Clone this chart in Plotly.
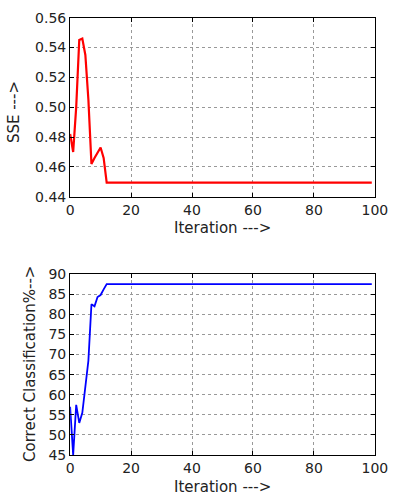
import plotly.graph_objects as go

iterations = list(range(100))
sse_head = [0.482, 0.470, 0.500, 0.545, 0.546, 0.535, 0.505, 0.462, 0.466, 0.470, 0.473, 0.466]
sse_tail_value = 0.4495
sse = sse_head + [sse_tail_value] * (100 - len(sse_head))

acc_head = [57.0, 45.0, 57.5, 53.0, 55.5, 62.0, 68.5, 82.5, 82.0, 84.3, 84.8, 86.2]
acc_tail_value = 87.5
acc = acc_head + [acc_tail_value] * (100 - len(acc_head))

x_ticks = [0, 20, 40, 60, 80, 100]
sse_ticks = [0.44, 0.46, 0.48, 0.50, 0.52, 0.54, 0.56]
acc_ticks = [45, 50, 55, 60, 65, 70, 75, 80, 85, 90]

W, H = 407, 495
FONT = "DejaVu Sans"

def px_x(p):
    return p / W

def px_y(p):
    return (H - p) / H

fig = go.Figure()
fig.add_trace(go.Scatter(x=iterations, y=sse, mode="lines",
                         line=dict(color="#ff0000", width=2.2), xaxis="x", yaxis="y",
                         showlegend=False))
fig.add_trace(go.Scatter(x=iterations, y=acc, mode="lines",
                         line=dict(color="#0000ff", width=1.8), xaxis="x2", yaxis="y2",
                         showlegend=False))

axis_common = dict(showline=True, linecolor="black", linewidth=1.2, mirror="allticks",
                   ticks="inside", ticklen=4, tickcolor="black",
                   showgrid=True, gridcolor="#999999", griddash="dot", gridwidth=1,
                   zeroline=False, tickfont=dict(family=FONT, size=14, color="#222222"))

fig.update_layout(
    width=W, height=H, margin=dict(l=0, r=0, t=0, b=0),
    paper_bgcolor="white", plot_bgcolor="white",
    xaxis=dict(domain=[px_x(69), px_x(387)], range=[0, 100], tickvals=x_ticks,
               anchor="y", **axis_common),
    yaxis=dict(domain=[px_y(195), px_y(10)], range=[0.44, 0.56], tickvals=sse_ticks,
               tickformat=".2f", anchor="x", **axis_common),
    xaxis2=dict(domain=[px_x(69), px_x(387)], range=[0, 100], tickvals=x_ticks,
                anchor="y2", **axis_common),
    yaxis2=dict(domain=[px_y(462), px_y(275)], range=[45, 90], tickvals=acc_ticks,
                anchor="x2", **axis_common),
)

label_font = dict(family=FONT, size=15, color="#222222")
fig.add_annotation(text="Iteration --->", xref="paper", yref="paper",
                   x=px_x(228), y=px_y(227), xanchor="center", yanchor="middle",
                   showarrow=False, font=label_font)
fig.add_annotation(text="SSE --->", xref="paper", yref="paper",
                   x=px_x(10), y=px_y(108), xanchor="center", yanchor="middle",
                   textangle=-90, showarrow=False, font=label_font)
fig.add_annotation(text="Iteration --->", xref="paper", yref="paper",
                   x=px_x(228), y=px_y(484), xanchor="center", yanchor="top",
                   showarrow=False, font=label_font)
fig.add_annotation(text="Correct Classification%-->", xref="paper", yref="paper",
                   x=px_x(27), y=px_y(368), xanchor="center", yanchor="middle",
                   textangle=-90, showarrow=False, font=label_font)

fig.write_html("out.html")
